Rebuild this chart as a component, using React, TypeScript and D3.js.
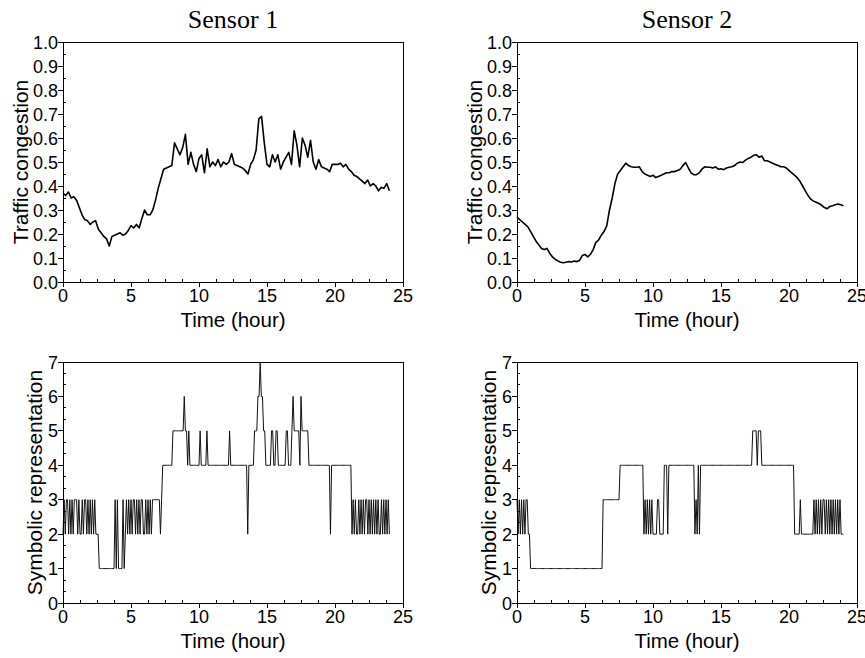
import React from "react";
import * as d3 from "d3";

// ---------- text ----------
const TITLES = ["Sensor 1", "Sensor 2"];
const X_LABEL = "Time (hour)";
const Y_LABEL_TOP = "Traffic congestion";
const Y_LABEL_BOTTOM = "Symbolic representation";

// ---------- ticks ----------
const X_TICKS = [0, 5, 10, 15, 20, 25];
const Y_TICKS_TOP = [0, 0.1, 0.2, 0.3, 0.4, 0.5, 0.6, 0.7, 0.8, 0.9, 1.0];
const Y_TICKS_BOTTOM = [0, 1, 2, 3, 4, 5, 6, 7];

// ---------- data ----------
// traffic congestion, one reading every 0.2 h from 0 h to 24 h
const CONGESTION_STEP_H = 0.2;
const congestion1 = [
  0.37, 0.36, 0.375, 0.35, 0.355, 0.34, 0.31, 0.28, 0.26, 0.255,
  0.24, 0.25, 0.255, 0.22, 0.205, 0.19, 0.18, 0.15, 0.19, 0.195,
  0.2, 0.205, 0.195, 0.2, 0.215, 0.235, 0.225, 0.24, 0.225, 0.265,
  0.3, 0.28, 0.28, 0.3, 0.34, 0.39, 0.43, 0.47, 0.475, 0.48,
  0.485, 0.58, 0.555, 0.53, 0.56, 0.615, 0.49, 0.54, 0.49, 0.46,
  0.515, 0.53, 0.455, 0.555, 0.48, 0.5, 0.485, 0.51, 0.48, 0.5,
  0.49, 0.5, 0.535, 0.49, 0.485, 0.48, 0.475, 0.465, 0.45, 0.49,
  0.51, 0.55, 0.68, 0.69, 0.58, 0.49, 0.48, 0.53, 0.5, 0.53,
  0.47, 0.5, 0.52, 0.54, 0.49, 0.63, 0.57, 0.48, 0.6, 0.57,
  0.52, 0.59, 0.5, 0.47, 0.51, 0.48, 0.475, 0.47, 0.46, 0.49,
  0.49, 0.49, 0.495, 0.48, 0.49, 0.47, 0.46, 0.445, 0.44, 0.43,
  0.42, 0.41, 0.425, 0.4, 0.41, 0.4, 0.38, 0.395, 0.39, 0.41,
  0.38,
];
const congestion2 = [
  0.27, 0.26, 0.25, 0.24, 0.23, 0.21, 0.19, 0.17, 0.155, 0.14,
  0.135, 0.14, 0.12, 0.105, 0.095, 0.088, 0.082, 0.08, 0.082, 0.085,
  0.083, 0.087, 0.085, 0.09, 0.11, 0.115, 0.105, 0.115, 0.135, 0.165,
  0.175, 0.195, 0.21, 0.235, 0.3, 0.35, 0.41, 0.45, 0.465, 0.48,
  0.495, 0.485, 0.48, 0.478, 0.478, 0.48, 0.46, 0.45, 0.445, 0.44,
  0.445, 0.435, 0.44, 0.445, 0.45, 0.455, 0.455, 0.46, 0.46, 0.465,
  0.47, 0.485, 0.498, 0.475, 0.455, 0.447, 0.447, 0.455, 0.47, 0.48,
  0.478, 0.478, 0.475, 0.48, 0.47, 0.472, 0.468, 0.475, 0.478, 0.48,
  0.485, 0.495, 0.5, 0.498, 0.508, 0.515, 0.52, 0.528, 0.53, 0.52,
  0.525, 0.505, 0.505, 0.5, 0.495, 0.49, 0.485, 0.48, 0.48, 0.475,
  0.465, 0.455, 0.445, 0.435, 0.42, 0.4, 0.38, 0.36, 0.345, 0.337,
  0.332, 0.327, 0.32, 0.31, 0.305, 0.315, 0.318, 0.322, 0.325, 0.322,
  0.318,
];

// symbolic level, one symbol every 5 minutes; one string per hour (12 symbols)
const SYMBOL_STEP_H = 1 / 12;
const symbols1 = [
  "232332323233", "323223233232", "323232221111", "111111111131",
  "311113123232", "323323232332", "232323233333", "332344444444",
  "455555555556", "554544444444", "454444454444", "444444444444",
  "444544444444", "444444424444", "455566766554", "444455445544",
  "444445544456", "555554655555", "544444444444", "444444442444",
  "444444444444", "444232322323", "232332323232", "323223232323",
  "2",
];
const symbols2 = [
  "323232323322", "111111111111", "111111111111", "111111111111",
  "111111111111", "111111111111", "111133333333", "333333344444",
  "444444444444", "444423232323", "222233222244", "424444444444",
  "444444444444", "423242444444", "444444444444", "444444444444",
  "444444444444", "444455554555", "444444444444", "444444444444",
  "444442222232", "222222222232", "323232332323", "232323232322",
  "2",
];

const toPoints = (vals: number[], step: number): [number, number][] =>
  vals.map((v, i) => [i * step, v]);
const symPoints = (hours: string[]): [number, number][] =>
  toPoints(hours.join("").split("").map(Number), SYMBOL_STEP_H);

const FONT = "'Liberation Sans', Arial, Helvetica, sans-serif";
const SERIF = "'Liberation Serif', 'Times New Roman', serif";
const INK = "#000";

type PanelProps = {
  left: number;
  top: number;
  width: number;
  height: number;
  yDomain: [number, number];
  yTicks: number[];
  yMinorStep: number;
  yFmt: (v: number) => string;
  yLabel: string;
  yLabelOffset: number;
  points: [number, number][];
  lineWidth: number;
  lineColor: string;
  title?: string;
};

function Panel(p: PanelProps) {
  const x = d3.scaleLinear().domain([0, 25]).range([p.left, p.left + p.width]);
  const y = d3.scaleLinear().domain(p.yDomain).range([p.top + p.height, p.top]);
  const line = d3
    .line<[number, number]>()
    .x((d) => x(d[0]))
    .y((d) => y(d[1]))
    .curve(d3.curveLinear);
  const bottom = p.top + p.height;
  const xMinor = d3.range(0, 25.001, 1.25).filter((v) => Math.abs(v % 5) > 1e-6);
  const yMinor = d3
    .range(p.yDomain[0], p.yDomain[1] + 1e-6, p.yMinorStep)
    .filter((v) => !p.yTicks.some((t) => Math.abs(t - v) < 1e-6));
  const cy = (p.top + bottom) / 2;
  return (
    <g>
      {p.title && (
        <text
          x={x(12.5)}
          y={28}
          textAnchor="middle"
          fontFamily={SERIF}
          fontSize={26}
          fill={INK}
        >
          {p.title}
        </text>
      )}
      <path d={line(p.points) || ""} fill="none" stroke={p.lineColor} strokeWidth={p.lineWidth} strokeLinejoin="round" />
      <rect
        x={p.left}
        y={p.top}
        width={p.width}
        height={p.height}
        fill="none"
        stroke={INK}
        strokeWidth={1}
        shapeRendering="crispEdges"
      />
      {X_TICKS.map((t) => (
        <g key={"x" + t}>
          <line x1={x(t)} x2={x(t)} y1={bottom} y2={bottom + 5} stroke={INK} shapeRendering="crispEdges" />
          <text x={x(t)} y={bottom + 20} textAnchor="middle" fontFamily={FONT} fontSize={18} fill={INK}>
            {t}
          </text>
        </g>
      ))}
      {xMinor.map((t) => (
        <line key={"xm" + t} x1={x(t)} x2={x(t)} y1={bottom} y2={bottom - 3} stroke={INK} shapeRendering="crispEdges" />
      ))}
      {p.yTicks.map((t) => (
        <g key={"y" + t}>
          <line x1={p.left - 5} x2={p.left} y1={y(t)} y2={y(t)} stroke={INK} shapeRendering="crispEdges" />
          <text x={p.left - 5} y={y(t) + 6.5} textAnchor="end" fontFamily={FONT} fontSize={18} fill={INK}>
            {p.yFmt(t)}
          </text>
        </g>
      ))}
      {yMinor.map((t) => (
        <line key={"ym" + t} x1={p.left} x2={p.left + 3} y1={y(t)} y2={y(t)} stroke={INK} shapeRendering="crispEdges" />
      ))}
      <text x={x(12.5)} y={bottom + 45} textAnchor="middle" fontFamily={FONT} fontSize={20.5} fill={INK}>
        {X_LABEL}
      </text>
      <text
        transform={`translate(${p.left - p.yLabelOffset},${cy}) rotate(-90)`}
        textAnchor="middle"
        fontFamily={FONT}
        fontSize={21}
        fill={INK}
      >
        {p.yLabel}
      </text>
    </g>
  );
}

export default function App() {
  const lefts = [63, 517];
  const W = 340;
  const cong = [congestion1, congestion2];
  const syms = [symbols1, symbols2];
  return (
    <svg
      width={865}
      height={658}
      style={{ position: "absolute", left: 0, top: 0, display: "block", background: "#fff" }}
    >
      {lefts.map((l, i) => (
        <g key={i}>
          <Panel
            left={l}
            top={42}
            width={W}
            height={240}
            yDomain={[0, 1]}
            yTicks={Y_TICKS_TOP}
            yMinorStep={0.05}
            yFmt={(v) => v.toFixed(1)}
            yLabel={Y_LABEL_TOP}
            yLabelOffset={35}
            points={toPoints(cong[i], CONGESTION_STEP_H)}
            lineWidth={1.6}
            lineColor="#000"
            title={TITLES[i]}
          />
          <Panel
            left={l}
            top={362}
            width={W}
            height={241}
            yDomain={[0, 7]}
            yTicks={Y_TICKS_BOTTOM}
            yMinorStep={1 / 3}
            yFmt={(v) => String(v)}
            yLabel={Y_LABEL_BOTTOM}
            yLabelOffset={21}
            points={symPoints(syms[i])}
            lineWidth={1}
            lineColor="#111"
          />
        </g>
      ))}
    </svg>
  );
}
